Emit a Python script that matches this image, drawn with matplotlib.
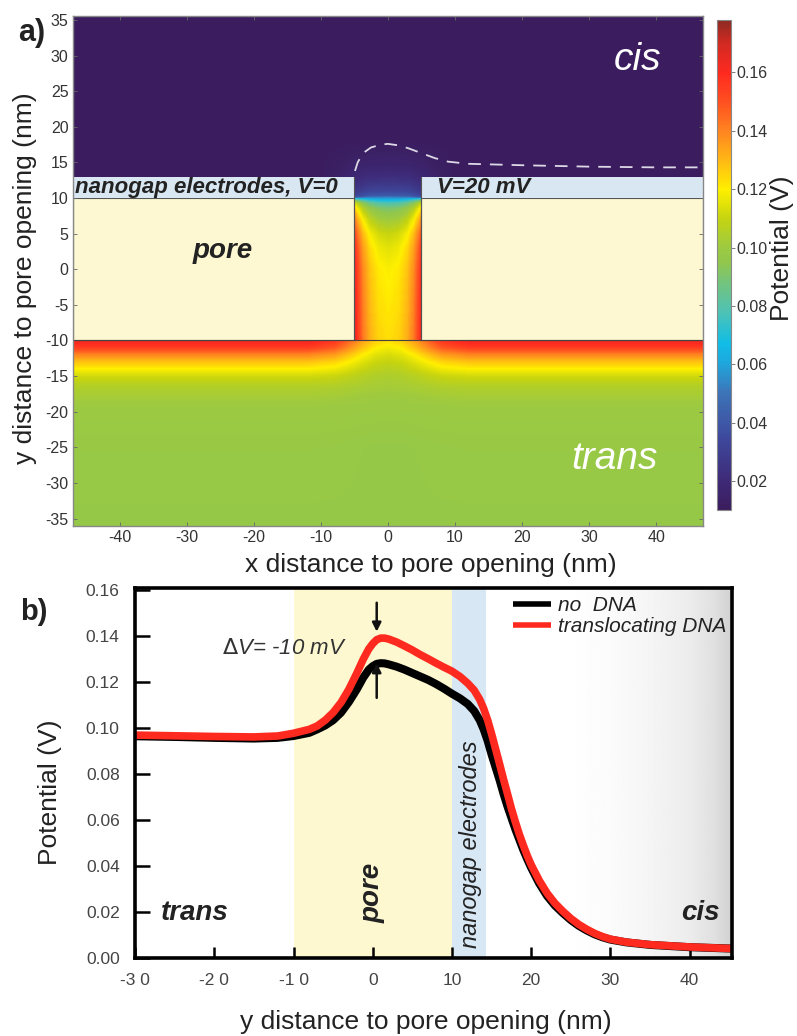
# Potential map around the nanopore (a) and potential profile along the pore axis (b)

import numpy as np
import matplotlib
matplotlib.use('Agg')
import matplotlib.pyplot as plt
import matplotlib.colors as colors
from matplotlib.patches import Rectangle

plt.rcParams['font.family'] = ['Liberation Sans', 'DejaVu Sans']
plt.rcParams['axes.unicode_minus'] = False

# ---------------- data: panel a (potential map) ----------------
x_min, x_max = -47, 47
y_min, y_max = -36, 35.6
pore_radius = 5
membrane_bottom = -10
membrane_top = 10
electrode_top = 13
cis_level = 0.011

# trans side, far from the pore (y ascending)
trans_y = [-36, -25, -19, -16.5, -15, -14, -13, -12, -11, -10]
trans_v = [0.097, 0.098, 0.100, 0.105, 0.112, 0.120, 0.128, 0.140, 0.155, 0.164]
# trans side, under the pore mouth
mouth_y = [-36, -25, -18, -15, -13.5, -12, -11, -10]
mouth_v = [0.097, 0.097, 0.100, 0.104, 0.108, 0.113, 0.118, 0.123]
mouth_wx = [0, 2, 4, 6, 8, 12]
mouth_w = [1, 0.92, 0.7, 0.42, 0.17, 0]
# inside the pore
pore_y = [-10, -5, 0, 3, 5, 7, 8.5, 9.3, 9.7, 10]
pore_center_v = [0.123, 0.121, 0.119, 0.115, 0.110, 0.100, 0.090, 0.078, 0.066, 0.055]
pore_wall_v = [0.165, 0.164, 0.162, 0.158, 0.152, 0.140, 0.126, 0.112, 0.090, 0.060]
lat_frac = [0, 0.3, 0.55, 0.75, 0.9, 1.0]
lat_w = [0, 0.05, 0.2, 0.45, 0.75, 1.0]
# cis side, dome above the pore
dome_y = [10, 10.3, 11, 12, 13, 14.5, 16.5, 18]
dome_v = [0.058, 0.042, 0.033, 0.027, 0.022, 0.017, 0.013, 0.011]
dome_wx = [0, 3, 5, 7, 10]
dome_w = [1, 0.95, 0.7, 0.3, 0]
# dashed contour
dash_x = [-4.9, -4.5, -3.7, -2.5, -1, 0, 1.5, 3, 5, 7, 9, 12, 20, 30, 40, 47]
dash_y = [13.8, 15.0, 16.3, 17.1, 17.5, 17.6, 17.4, 17.0, 16.3, 15.6, 15.1, 14.8, 14.6, 14.4, 14.3, 14.3]

cbar_min, cbar_max = 0.01, 0.178
cbar_ticks = [0.02, 0.04, 0.06, 0.08, 0.10, 0.12, 0.14, 0.16]
cmap_vals = [0.010, 0.020, 0.035, 0.050, 0.060, 0.067, 0.078, 0.088, 0.095, 0.100,
             0.110, 0.120, 0.130, 0.140, 0.150, 0.160, 0.170, 0.178]
cmap_cols = ['#3b1d5e', '#3e2a78', '#3e4a9e', '#3d74b8', '#1fa6dc', '#10bde6',
             '#4fc2b4', '#74c47c', '#92c74c', '#9dca42', '#c6d410', '#fff000',
             '#ffb814', '#ff8520', '#ff5020', '#ff2a20', '#d42a22', '#8e2a22']

# ---------------- data: panel b (profiles) ----------------
prof_x = [-30, -25, -20, -15, -12, -10, -8, -7, -6, -5, -4, -3, -2, -1.2, -0.5, 0,
          0.5, 1, 1.5, 2, 3, 4, 5, 6, 7, 8, 9, 10, 11, 12, 12.8, 13.5, 14, 14.5,
          15, 15.5, 16, 16.5, 17, 17.5, 18, 18.5, 19, 19.5, 20, 21, 22, 23, 24,
          25, 26, 27, 28, 29, 30, 32, 35, 40, 45.3]
no_dna = [0.0965, 0.0962, 0.0958, 0.0955, 0.0958, 0.0966, 0.0980, 0.0995, 0.1012,
          0.1035, 0.1068, 0.1115, 0.1170, 0.1220, 0.1255, 0.1270, 0.1280, 0.1283,
          0.1282, 0.1278, 0.1268, 0.1255, 0.1240, 0.1225, 0.1210, 0.1192, 0.1172,
          0.1150, 0.1130, 0.1105, 0.1075, 0.1035, 0.0995, 0.0945, 0.0885, 0.0830,
          0.0775, 0.0715, 0.0660, 0.0610, 0.0560, 0.0515, 0.0470, 0.0430, 0.0392,
          0.0325, 0.0270, 0.0228, 0.0195, 0.0165, 0.0140, 0.0120, 0.0103, 0.0090,
          0.0080, 0.0068, 0.0057, 0.0047, 0.0041]
with_dna = [0.0970, 0.0967, 0.0964, 0.0962, 0.0966, 0.0978, 0.0995, 0.1010, 0.1035,
            0.1068, 0.1112, 0.1170, 0.1240, 0.1300, 0.1345, 0.1368, 0.1385, 0.1392,
            0.1392, 0.1388, 0.1375, 0.1358, 0.1340, 0.1320, 0.1302, 0.1283, 0.1265,
            0.1248, 0.1225, 0.1195, 0.1165, 0.1125, 0.1085, 0.1035, 0.0975, 0.0910,
            0.0845, 0.0778, 0.0715, 0.0650, 0.0592, 0.0538, 0.0490, 0.0445, 0.0405,
            0.0338, 0.0282, 0.0238, 0.0203, 0.0172, 0.0146, 0.0125, 0.0107, 0.0093,
            0.0082, 0.0069, 0.0058, 0.0048, 0.0041]
xlim_b = (-30, 45.3)
ylim_b = (0, 0.161)
xticks_b = [-30, -20, -10, 0, 10, 20, 30, 40]
xticklabels_b = ['-3 0', '-2 0', '-1 0', '0', '10', '20', '30', '40']
yticks_b = [0.00, 0.02, 0.04, 0.06, 0.08, 0.10, 0.12, 0.14, 0.16]
pore_span = (-10, 10)
electrode_span = (10, 14.3)
grad_x = [24, 30, 35, 40, 43, 45.3]
grad_level = [1.0, 0.985, 0.96, 0.925, 0.88, 0.82]
arrow_x = 0.5
arrow_down = (0.1558, 0.1408)
arrow_up = (0.1120, 0.1295)

# ---------------- build the field ----------------
xs = np.linspace(x_min, x_max, 753)
ys = np.linspace(y_min, y_max, 573)
X, Y = np.meshgrid(xs, ys)
AX = np.abs(X)
field = np.full(X.shape, cis_level)

far = np.interp(Y, trans_y, trans_v)
mouth = np.interp(Y, mouth_y, mouth_v)
w = np.interp(AX, mouth_wx, mouth_w)
field = np.where(Y < membrane_bottom, (1 - w) * far + w * mouth, field)

c = np.interp(Y, pore_y, pore_center_v)
wl = np.interp(Y, pore_y, pore_wall_v)
lat = np.interp(AX / pore_radius, lat_frac, lat_w)
in_pore = (Y >= membrane_bottom) & (Y <= membrane_top) & (AX <= pore_radius)
field = np.where(in_pore, c + (wl - c) * lat, field)

cv = np.interp(Y, dome_y, dome_v)
wc = np.interp(AX, dome_wx, dome_w)
field = np.where(Y > membrane_top, cis_level + (cv - cis_level) * wc, field)

pos = [(v - cbar_min) / (cbar_max - cbar_min) for v in cmap_vals]
cmap = colors.LinearSegmentedColormap.from_list('pot', list(zip(pos, cmap_cols)))
norm = colors.Normalize(vmin=cbar_min, vmax=cbar_max)

# ---------------- figure ----------------
fig = plt.figure(figsize=(7.97, 10.36), dpi=100)
ax1 = fig.add_axes([0.0912, 0.4926, 0.7909, 0.4923])
cax = fig.add_axes([0.8996, 0.5077, 0.0176, 0.473])
ax2 = fig.add_axes([0.1694, 0.0753, 0.7487, 0.3571])

im = ax1.imshow(field, origin='lower', extent=(x_min, x_max, y_min, y_max),
                cmap=cmap, norm=norm, aspect='auto', interpolation='bilinear')
memb_col = '#fdf8d2'
elec_col = '#d9e7f3'
edge = '#555555'
ax1.add_patch(Rectangle((x_min, membrane_bottom), -pore_radius - x_min,
                        membrane_top - membrane_bottom, fc=memb_col, ec=edge, lw=0.8))
ax1.add_patch(Rectangle((pore_radius, membrane_bottom), x_max - pore_radius,
                        membrane_top - membrane_bottom, fc=memb_col, ec=edge, lw=0.8))
ax1.add_patch(Rectangle((x_min, membrane_top), -pore_radius - x_min,
                        electrode_top - membrane_top, fc=elec_col, ec='none'))
ax1.add_patch(Rectangle((pore_radius, membrane_top), x_max - pore_radius,
                        electrode_top - membrane_top, fc=elec_col, ec='none'))
ax1.plot([-pore_radius, -pore_radius], [membrane_bottom, electrode_top], color=edge, lw=0.8)
ax1.plot([pore_radius, pore_radius], [membrane_bottom, electrode_top], color=edge, lw=0.8)
ax1.axhline(membrane_bottom, color='#444444', lw=0.8)
ax1.plot(dash_x, dash_y, color='#ddd8e6', lw=1.3, dashes=(7, 5))
ax1.set_xlim(x_min, x_max)
ax1.set_ylim(y_min, y_max)
ax1.set_xticks(range(-40, 41, 10))
ax1.set_yticks(range(-35, 36, 5))
ax1.tick_params(direction='in', length=3, width=0.6, color='#666666', labelsize=11.5,
                labelcolor='#333333', pad=3, right=True, top=True)
for s in ax1.spines.values():
    s.set_color('#888888')
    s.set_linewidth(1)

ax1.text(37.2, 29.4, 'cis', color='white', style='italic', fontsize=28,
         ha='center', va='center')
ax1.text(33.8, -26.7, 'trans', color='white', style='italic', fontsize=28,
         ha='center', va='center')
ax1.text(-46.6, 11.5, 'nanogap electrodes, V=0', style='italic', weight='bold',
         fontsize=16, color='#222222', ha='left', va='center')
ax1.text(7.3, 11.5, 'V=20 mV', style='italic', weight='bold', fontsize=16,
         color='#222222', ha='left', va='center')
ax1.text(-24.7, 2.5, 'pore', style='italic', weight='bold', fontsize=20,
         color='#222222', ha='center', va='center')

ax1.set_xlabel('x distance to pore opening (nm)', fontsize=19, color='#222222')
ax1.xaxis.set_label_coords(0.5685, -0.077)
ax1.xaxis.label.set_verticalalignment('center')
ax1.set_ylabel('y distance to pore opening (nm)', fontsize=19, color='#222222')
ax1.yaxis.set_label_coords(-0.0757, 0.486)
ax1.yaxis.label.set_verticalalignment('center')

cbar = fig.colorbar(im, cax=cax, ticks=cbar_ticks)
cbar.ax.set_yticklabels(['%.2f' % t for t in cbar_ticks])
cbar.ax.tick_params(labelsize=11.5, labelcolor='#333333', length=3, width=0.6,
                    color='#666666', pad=1)
cbar.outline.set_edgecolor('#888888')
cbar.set_label('Potential (V)', fontsize=19, color='#222222')
cbar.ax.yaxis.set_label_coords(4.6, 0.535)
cbar.ax.yaxis.label.set_verticalalignment('center')

fig.text(0.0226, 0.968, 'a)', fontsize=22, weight='bold', color='#222222',
         ha='left', va='center')

# ---------------- panel b ----------------
ax2.axvspan(*pore_span, color='#fdf8d0', lw=0, zorder=0)
ax2.axvspan(*electrode_span, color='#d8e7f4', lw=0, zorder=0)
gx = np.linspace(grad_x[0], grad_x[-1], 300)
ax2.imshow(np.interp(gx, grad_x, grad_level)[None, :], cmap='gray', vmin=0, vmax=1,
           extent=(grad_x[0], grad_x[-1], ylim_b[0], ylim_b[1]), aspect='auto',
           interpolation='bilinear', zorder=0)

l1, = ax2.plot(prof_x, no_dna, color='black', lw=5.8, solid_capstyle='butt',
               solid_joinstyle='round', label='no  DNA', zorder=3)
l2, = ax2.plot(prof_x, with_dna, color='#ff2a1f', lw=5.5, solid_capstyle='butt',
               solid_joinstyle='round', label='translocating DNA', zorder=4)

ax2.annotate('', xy=(arrow_x, arrow_down[1]), xytext=(arrow_x, arrow_down[0]),
             arrowprops=dict(arrowstyle='-|>', color='#111111', lw=1.8,
                             mutation_scale=13), zorder=5)
ax2.annotate('', xy=(arrow_x, arrow_up[1]), xytext=(arrow_x, arrow_up[0]),
             arrowprops=dict(arrowstyle='-|>', color='#111111', lw=1.8,
                             mutation_scale=13), zorder=5)
ax2.text(-19, 0.1346, r'$\Delta$V= -10 mV', style='italic', fontsize=16,
         color='#333333', ha='left', va='center')

leg = ax2.legend(loc='upper left', bbox_to_anchor=(0.6335, 0.978), frameon=False,
                 prop={'style': 'italic', 'size': 15}, handlelength=1.8,
                 handletextpad=0.35, labelspacing=0.1, borderpad=0, borderaxespad=0)
for ln in leg.get_lines():
    ln.set_linewidth(4)
for t in leg.get_texts():
    t.set_color('#222222')

ax2.text(-26.8, 0.0195, 'trans', style='italic', weight='bold', fontsize=20,
         color='#222222', ha='left', va='center')
ax2.text(0.0, 0.0285, 'pore', style='italic', weight='bold', fontsize=20,
         color='#222222', rotation=90, ha='center', va='center')
ax2.text(12.3, 0.0495, 'nanogap electrodes', style='italic', fontsize=17,
         color='#222222', rotation=90, ha='center', va='center')
ax2.text(41.3, 0.0195, 'cis', style='italic', weight='bold', fontsize=20,
         color='#222222', ha='center', va='center')

ax2.set_xlim(*xlim_b)
ax2.set_ylim(*ylim_b)
ax2.set_xticks(xticks_b)
ax2.set_xticklabels(xticklabels_b)
ax2.set_yticks(yticks_b)
ax2.set_yticklabels(['%.2f' % t for t in yticks_b])
ax2.tick_params(direction='in', length=8, width=1.8, labelsize=12.5,
                labelcolor='#444444', pad=11)
ax2.tick_params(axis='y', length=11)
for s in ax2.spines.values():
    s.set_linewidth(2.6)
    s.set_color('black')
    s.set_zorder(6)

ax2.set_xlabel('y distance to pore opening (nm)', fontsize=19, color='#222222')
ax2.xaxis.set_label_coords(0.4877, -0.173)
ax2.xaxis.label.set_verticalalignment('center')
ax2.set_ylabel('Potential (V)', fontsize=19, color='#222222')
ax2.yaxis.set_label_coords(-0.1424, 0.4486)
ax2.yaxis.label.set_verticalalignment('center')

fig.text(0.025, 1 - 611.7 / 1036, 'b)', fontsize=21, weight='bold', color='#222222',
         ha='left', va='center')

plt.savefig('out.png', dpi=100)
print('done out.png')
